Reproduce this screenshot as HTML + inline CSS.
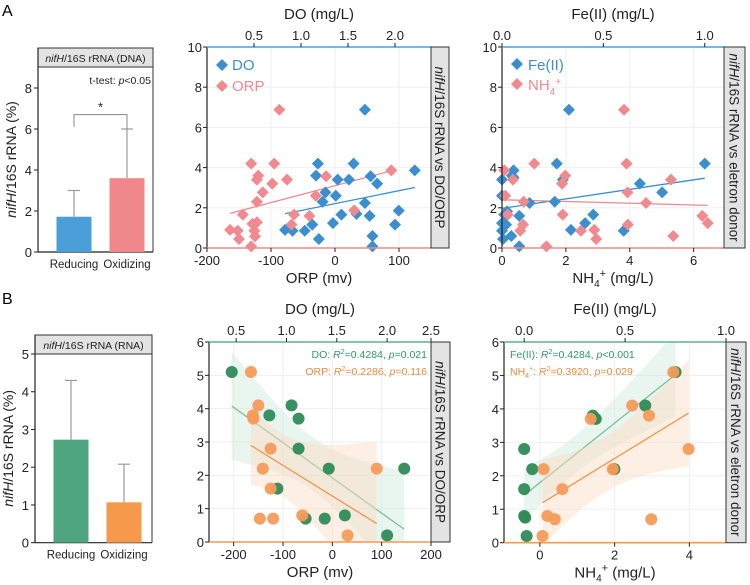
<!DOCTYPE html>
<html><head><meta charset="utf-8"><style>
body{margin:0;background:#fff;}
svg{display:block;font-family:"Liberation Sans",Arial,sans-serif;}
</style></head><body>
<svg id="fig" width="750" height="585" viewBox="0 0 750 585" xmlns="http://www.w3.org/2000/svg">
<text x="2" y="16" font-size="16">A</text>
<text x="2" y="304" font-size="16">B</text>
</svg>
<script>
// ---- Bar data ----
const barCats = ["Reducing","Oxidizing"];
const dnaMeans = [1.72, 3.6];
const dnaErr = [3.0, 6.0];
const rnaMeans = [2.73, 1.07];
const rnaErr = [4.3, 2.08];
// ---- Panel A middle ----
const aOrpX = [-87,-131,-95,-120,-122,-75,-98,-113,-122,-30,-14,88,30,-64,-40,-144,-68,-122,-129,-164,-152,-126,-150,-125,-131];
const aOrpY = [6.88,4.2,4.2,3.6,3.4,3.4,3.2,2.77,2.3,2.6,3.57,3.86,1.87,1.66,1.6,1.66,1.16,1.28,1.2,0.9,0.86,0.86,0.45,0.58,0.08];
const aDoX = [1.68,1.18,1.56,1.16,1.39,1.51,1.74,1.81,2.21,1.26,1.23,1.37,1.68,1.43,1.59,1.73,2.04,1.12,1.34,2.0,0.83,0.91,1.04,1.19,1.76,1.76];
const aDoY = [6.88,4.2,4.2,3.6,3.4,3.4,3.57,3.2,3.86,2.77,2.3,2.6,2.24,1.66,1.7,1.6,1.86,1.16,1.24,1.16,0.9,0.86,0.86,0.45,0.6,0.08];
// ---- Panel A right ----
const aNhX = [3.82,1.01,3.9,1.98,1.88,0.07,0.34,5.29,3.93,0.1,0.68,4.51,1.9,0.18,6.27,6.44,0.66,3.94,0.57,2.47,2.89,2.95,5.36,1.39];
const aNhY = [6.88,4.2,4.2,3.6,3.2,3.86,3.4,3.4,2.77,2.6,2.3,2.24,1.66,1.66,1.6,1.24,1.16,1.16,0.86,0.86,0.9,0.45,0.6,0.08];
const aFeX = [0.33,0.27,0.68,1.0,0.30,0,0.057,0.049,0.057,0,0.79,0.26,0.136,0.011,0.025,0.085,0.45,0,0.02,0.41,0,0.34,0.6,0.046,0.005,0.085];
const aFeY = [6.88,4.2,3.2,4.2,3.4,3.4,3.86,3.6,3.5,2.6,2.77,2.3,2.24,1.66,1.82,1.6,1.66,1.24,1.16,1.24,0.86,0.9,0.86,0.6,0.45,0.08];
// ---- Panel B middle ----
const bDoX = [0.456,0.83,1.05,1.12,1.12,1.42,2.17,0.91,1.19,1.38,1.58,2.0];
const bDoY = [5.1,3.8,4.1,3.7,2.8,2.2,2.2,1.6,0.7,0.7,0.8,0.2];
const bOrpX = [-165,-150,-161,-160,-125,-141,-125,-147,-120,-61,90,31];
const bOrpY = [5.1,4.1,3.8,3.7,2.8,2.2,1.6,0.7,0.7,0.8,2.2,0.2];
// ---- Panel B right ----
const bFeX = [0,0,0,0.005,0.012,0.04,0.34,0.347,0.355,0.447,0.6,0.75];
const bFeY = [2.8,1.6,0.8,0.75,0.2,2.2,3.8,3.72,3.7,2.2,4.1,5.1];
const bNhX = [0.1,0.07,0.2,0.4,0.6,1.36,1.95,2.47,2.92,2.98,3.57,3.98];
const bNhY = [2.2,0.2,0.8,0.7,1.6,3.7,2.2,4.1,3.8,0.7,5.1,2.8];
// ---- ticks ----
const aOrpTicks = [-200,-100,0,100];
const aDoTicks = [0.5,1.0,1.5,2.0];
const aYTicks = [0,2,4,6,8,10];
const aNhTicks = [0,2,4,6];
const aFeTicks = [0.0,0.5,1.0];
const bOrpTicks = [-200,-100,0,100,200];
const bDoTicks = [0.5,1.0,1.5,2.0,2.5];
const bYTicks = [0,1,2,3,4,5,6];
const bNhTicks = [0,2,4];
const bFeTicks = [0.0,0.5,1.0];
const dnaTicks = [0,2,4,6,8];
const rnaTicks = [0,1,2,3,4,5];

const svg = document.getElementById('fig');
const NS = "http://www.w3.org/2000/svg";
function mk(tag, attrs, parent){
  const e = document.createElementNS(NS, tag);
  for (const k in attrs) e.setAttribute(k, attrs[k]);
  (parent||svg).appendChild(e);
  return e;
}
function txt(x,y,s,size,anchor,parent,extra){
  const t = mk('text',Object.assign({x:x,y:y,'font-size':size,'text-anchor':anchor||'middle',fill:'#222'},extra||{}),parent);
  t.innerHTML = s;
  return t;
}
function lin(d0,d1,r0,r1){return v=>r0+(v-d0)/(d1-d0)*(r1-r0);}
function fit(xs,ys){
  const n=xs.length; const mx=xs.reduce((a,b)=>a+b,0)/n; const my=ys.reduce((a,b)=>a+b,0)/n;
  let sxx=0,sxy=0; for(let i=0;i<n;i++){sxx+=(xs[i]-mx)**2;sxy+=(xs[i]-mx)*(ys[i]-my);}
  const b=sxy/sxx, a=my-b*mx; let sse=0; for(let i=0;i<n;i++){sse+=(ys[i]-a-b*xs[i])**2;}
  const s=Math.sqrt(sse/(n-2));
  return {a,b,mx,sxx,s,n,min:Math.min(...xs),max:Math.max(...xs)};
}

function barPanel(o){
  const g = mk('g',{});
  
  
  const y = lin(0,o.yMax,o.bottom,o.top);
  mk('rect',{x:o.left,y:o.hdrTop,width:o.right-o.left,height:o.top-o.hdrTop,fill:'#e3e3e3',stroke:'#333','stroke-width':1},g);
  const ht = txt((o.left+o.right)/2,o.top-5,'<tspan font-style="italic">nifH</tspan>/16S rRNA ('+o.kind+')',10.5,'middle',g);
  
  
  mk('line',{x1:o.right,y1:o.top,x2:o.right,y2:o.bottom,stroke:'#333'},g);
  mk('line',{x1:o.left,y1:o.hdrTop,x2:o.left,y2:o.bottom,stroke:'#222','stroke-width':1.2},g);
  mk('line',{x1:o.left,y1:o.bottom,x2:o.right,y2:o.bottom,stroke:'#222','stroke-width':1.2},g);
  o.ticks.forEach(t=>{
    mk('line',{x1:o.left-4,y1:y(t),x2:o.left,y2:y(t),stroke:'#222'},g);
    txt(o.left-6,y(t)+5,t,13,'end',g);
  });
  const bw=35; const centers=[o.left+36, o.left+89];
  barCats.forEach((c,i)=>{
    const cx=centers[i];
    mk('line',{x1:cx,y1:y(o.means[i]),x2:cx,y2:y(o.err[i]),stroke:'#999','stroke-width':1.2},g);
    mk('line',{x1:cx-6,y1:y(o.err[i]),x2:cx+6,y2:y(o.err[i]),stroke:'#999','stroke-width':1.2},g);
    const r=mk('rect',{x:cx-bw/2,y:y(o.means[i]),width:bw,height:o.bottom-y(o.means[i]),fill:o.colors[i]},g);
    
    
    const l=txt(cx,o.bottom+16,c,11.5,'middle',g);
    
    
  });
  const yt=txt(0,0,'<tspan font-style="italic">nifH</tspan>/16S rRNA (%)',14,'middle',g,{transform:'translate('+(o.left-22)+','+((o.top+o.bottom)/2)+') rotate(-90)'});
  
  
  return {g,y,centers};
}

const A = barPanel({name:'dna-bar-panel',kind:'DNA',left:38,right:153,hdrTop:48,top:67,bottom:252,yMax:8/(252-88)*(252-67),ticks:dnaTicks,means:dnaMeans,err:dnaErr,colors:['#4a9fd9','#f0878a']});
const by = A.y(6.7);
mk('path',{d:'M'+A.centers[0]+','+A.y(6.1)+' V'+by+' H'+A.centers[1]+' V'+A.y(6.0),fill:'none',stroke:'#888','stroke-width':1},A.g);
txt((A.centers[0]+A.centers[1])/2,by-3,'*',13,'middle',A.g);
const tt=txt(151,84,'t-test: <tspan font-style="italic">p</tspan>&lt;0.05',10.5,'end',A.g);



barPanel({name:'rna-bar-panel',kind:'RNA',left:35,right:152,hdrTop:335,top:354,bottom:542.7,yMax:5,ticks:rnaTicks,means:rnaMeans,err:rnaErr,colors:['#4fa57f','#f5994a']});

function scatter(o){
  const g = mk('g',{});
  
  
  const y = lin(0,o.yMax,o.bottom,o.top);
  const xb = lin(o.xb.min,o.xb.max,o.left,o.right);
  const xt = lin(o.xt.min,o.xt.max,o.left,o.right);
  o.yTicks.forEach(t=>mk('line',{x1:o.left,y1:y(t),x2:o.right,y2:y(t),stroke:'#efefef'},g));
  o.xb.ticks.forEach(t=>{ if(xb(t)<=o.right+0.5) mk('line',{x1:xb(t),y1:o.top,x2:xb(t),y2:o.bottom,stroke:'#efefef'},g);});
  const series=[{xs:o.s2.xs,ys:o.s2.ys,sc:xt,c:o.s2},{xs:o.s1.xs,ys:o.s1.ys,sc:xb,c:o.s1}];
  series.forEach(S=>{
    const f=fit(S.xs,S.ys);
    const N=30; const tv=2.2;
    if(o.ci){
      let up=[],lo=[];
      for(let i=0;i<=N;i++){const xv=f.min+(f.max-f.min)*i/N; const yv=f.a+f.b*xv; const se=tv*f.s*Math.sqrt(1/f.n+(xv-f.mx)**2/f.sxx);
        up.push([S.sc(xv),y(Math.min(o.yMax,yv+se))]); lo.push([S.sc(xv),y(Math.max(0,yv-se))]);}
      const pts=up.concat(lo.reverse()).map(p=>p.join(',')).join(' ');
      const band=mk('polygon',{points:pts,fill:S.c.band,'fill-opacity':0.45},g);
      
      
    }
    const ln=mk('line',{x1:S.sc(f.min),y1:y(f.a+f.b*f.min),x2:S.sc(f.max),y2:y(f.a+f.b*f.max),stroke:S.c.line,'stroke-width':1.3},g);
    
    
  });
  series.forEach(S=>{
    S.xs.forEach((xv,i)=>{
      const cx=S.sc(xv), cy=y(S.ys[i]);
      let p;
      if(o.shape==='diamond') p=mk('polygon',{points:(cx)+','+(cy-6)+' '+(cx+6)+','+cy+' '+cx+','+(cy+6)+' '+(cx-6)+','+cy,fill:S.c.color},g);
      else p=mk('circle',{cx:cx,cy:cy,r:6,fill:S.c.color,'fill-opacity':0.95},g);
      
      
    });
  });
  mk('line',{x1:o.left,y1:o.top,x2:o.left,y2:o.bottom,stroke:'#222','stroke-width':1.2},g);
  mk('line',{x1:o.left,y1:o.top,x2:o.right,y2:o.top,stroke:o.s2.axis,'stroke-width':1.6},g);
  mk('line',{x1:o.left,y1:o.bottom,x2:o.right,y2:o.bottom,stroke:o.s1.axis,'stroke-width':1.6},g);
  o.yTicks.forEach(t=>{mk('line',{x1:o.left-4,y1:y(t),x2:o.left,y2:y(t),stroke:'#222'},g); txt(o.left-5,y(t)+5,t,13,'end',g);});
  o.xb.ticks.forEach(t=>{const X=Math.min(xb(t),o.right); mk('line',{x1:X,y1:o.bottom,x2:X,y2:o.bottom+4,stroke:'#222'},g); txt(X,o.bottom+17,t,13,'middle',g);});
  o.xt.ticks.forEach(t=>{const X=Math.min(xt(t),o.right); mk('line',{x1:X,y1:o.top-4,x2:X,y2:o.top,stroke:'#222'},g); txt(X,o.top-7,t.toFixed(1),13,'middle',g);});
  const bt=txt((o.left+o.right)/2,o.bottom+35,o.xb.title,15,'middle',g);
  
  
  const tp=txt((o.left+o.right)/2,o.top-28,o.xt.title,15,'middle',g);
  
  
  const st=mk('rect',{x:o.right,y:o.top,width:o.stripW,height:o.bottom-o.top,fill:'#e3e3e3',stroke:'#333','stroke-width':1},g);
  
  
  txt(0,0,o.strip,13.5,'middle',g,{transform:'translate('+(o.right+o.stripW/2-5)+','+((o.top+o.bottom)/2)+') rotate(90)'});
  return {g,y,xb,xt};
}

const stripA='<tspan font-style="italic">nifH</tspan>/16S rRNA vs DO/ORP';
const stripE='<tspan font-style="italic">nifH</tspan>/16S rRNA vs eletron donor';
const nhTitle='NH<tspan dy="4" font-size="10">4</tspan><tspan dy="-10" font-size="11">+</tspan><tspan dy="6"> (mg/L)</tspan>';
const blue={key:'do',color:'#3b8fd0',line:'#3b8fd0',axis:'#4a9fd9'};
const pink={key:'orp',color:'#f08a8f',line:'#f08a8f',axis:'#f08a8f'};

const P1=scatter({name:'do-orp-scatter-dna',left:207,right:431,top:47,bottom:248,stripW:18,strip:stripA,yMax:10,yTicks:aYTicks,shape:'diamond',
  xb:{min:-200,max:150,ticks:aOrpTicks,title:'ORP (mv)'},xt:{min:0,max:224/94,ticks:aDoTicks,title:'DO (mg/L)'},
  s1:Object.assign({},pink,{xs:aOrpX,ys:aOrpY}),s2:Object.assign({},blue,{xs:aDoX,ys:aDoY})});
mk('polygon',{points:'222,59 228,65 222,71 216,65',fill:'#3b8fd0'},P1.g);
txt(232,70,'DO',15,'start',P1.g,{fill:'#3b8fd0'});
mk('polygon',{points:'222,80 228,86 222,92 216,86',fill:'#f08a8f'},P1.g);
txt(232,91,'ORP',15,'start',P1.g,{fill:'#f08a8f'});

const P2=scatter({name:'electron-donor-scatter-dna',left:502,right:724,top:47,bottom:248,stripW:21,strip:stripE,yMax:10,yTicks:aYTicks,shape:'diamond',
  xb:{min:0,max:6.95,ticks:aNhTicks,title:nhTitle},xt:{min:0,max:1.095,ticks:aFeTicks,title:'Fe(II) (mg/L)'},
  s1:Object.assign({},pink,{key:'nh4',xs:aNhX,ys:aNhY}),s2:Object.assign({},blue,{key:'fe',xs:aFeX,ys:aFeY})});
mk('polygon',{points:'517,58 523,64 517,70 511,64',fill:'#3b8fd0'},P2.g);
txt(528,70,'Fe(II)',15,'start',P2.g,{fill:'#3b8fd0'});
mk('polygon',{points:'517,78 523,84 517,90 511,84',fill:'#f08a8f'},P2.g);
txt(528,90,'NH<tspan dy="5" font-size="10">4</tspan><tspan dy="-10" font-size="10">+</tspan>',15,'start',P2.g,{fill:'#f08a8f'});

const green={key:'do',color:'#2e8b57',line:'#7fbf9a',axis:'#5fb48a',band:'#cfe8dc'};
const orange={key:'orp',color:'#f59b5a',line:'#f5944a',axis:'#f5994a',band:'#fcdcc4'};

const P3=scatter({name:'do-orp-scatter-rna',left:209,right:431,top:342,bottom:542,stripW:19,strip:stripA,yMax:6,yTicks:bYTicks,shape:'circle',ci:true,
  xb:{min:-250,max:200,ticks:bOrpTicks,title:'ORP (mv)'},xt:{min:0.23,max:2.436,ticks:bDoTicks,title:'DO (mg/L)'},
  s1:Object.assign({},orange,{xs:bOrpX,ys:bOrpY}),s2:Object.assign({},green,{xs:bDoX,ys:bDoY})});
txt(427,358,'DO: <tspan font-style="italic">R</tspan><tspan dy="-4" font-size="7">2</tspan><tspan dy="4">=0.4284, </tspan><tspan font-style="italic">p</tspan>=0.021',10.5,'end',P3.g,{fill:'#2e9a62'});
txt(427,375,'ORP: <tspan font-style="italic">R</tspan><tspan dy="-4" font-size="7">2</tspan><tspan dy="4">=0.2286, </tspan><tspan font-style="italic">p</tspan>=0.116',10.5,'end',P3.g,{fill:'#f08a3a'});

const P4=scatter({name:'electron-donor-scatter-rna',left:504,right:726,top:342,bottom:542.7,stripW:20,strip:stripE,yMax:6,yTicks:bYTicks,shape:'circle',ci:true,
  xb:{min:-0.96,max:4.98,ticks:bNhTicks,title:nhTitle},xt:{min:-0.1,max:1.0,ticks:bFeTicks,title:'Fe(II) (mg/L)'},
  s1:Object.assign({},orange,{key:'nh4',xs:bNhX,ys:bNhY}),s2:Object.assign({},green,{key:'fe',xs:bFeX,ys:bFeY})});
txt(510,358,'Fe(II): <tspan font-style="italic">R</tspan><tspan dy="-4" font-size="7">2</tspan><tspan dy="4">=0.4284, </tspan><tspan font-style="italic">p</tspan>&lt;0.001',10.5,'start',P4.g,{fill:'#2e9a62'});
txt(510,375,'NH<tspan dy="3" font-size="7">4</tspan><tspan dy="-7" font-size="7">+</tspan><tspan dy="4">: </tspan><tspan font-style="italic">R</tspan><tspan dy="-4" font-size="7">2</tspan><tspan dy="4">=0.3920, </tspan><tspan font-style="italic">p</tspan>=0.029',10.5,'start',P4.g,{fill:'#f08a3a'});
</script>
</body></html>
